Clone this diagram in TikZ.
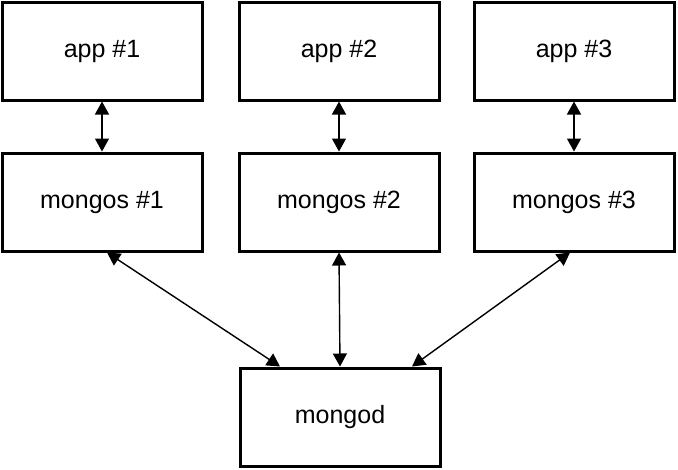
\documentclass[tikz,border=0pt]{standalone}
\usepackage{fontspec}
\setmainfont{Liberation Sans}
\usetikzlibrary{arrows.meta}

\begin{document}
\begin{tikzpicture}[x=1pt,y=-1pt,
    box/.style={draw,line width=3pt,minimum width=200pt,minimum height=98pt,
      inner sep=0pt,font=\fontsize{25}{29}\selectfont},
    link/.style={line width=1.4pt,{Triangle[width=14pt,length=13pt]}-{Triangle[width=14pt,length=13pt]}}]

  \useasboundingbox (0,0) rectangle (678,469);

  % ====================================================
  % ROW 1: APPLICATIONS
  % ====================================================
  \node[box] (app1) at (102,51) {app \#1};
  \node[box] (app2) at (339,51) {app \#2};
  \node[box] (app3) at (574,51) {app \#3};

  % ====================================================
  % ROW 2: ROUTERS
  % ====================================================
  \node[box] (mongos1) at (102,202) {mongos \#1};
  \node[box] (mongos2) at (339,202) {mongos \#2};
  \node[box] (mongos3) at (574,202) {mongos \#3};

  % ====================================================
  % ROW 3: DATABASE
  % ====================================================
  \node[box] (mongod) at (340,417) {mongod};

  % app <-> mongos
  \draw[link] (app1.south) -- (mongos1.north);
  \draw[link] (app2.south) -- (mongos2.north);
  \draw[link] (app3.south) -- (mongos3.north);

  % mongos <-> mongod
  \draw[link] ([xshift=5pt]mongos1.south) -- ([xshift=-60pt]mongod.north);
  \draw[link] (mongos2.south) -- (mongod.north);
  \draw[link] ([xshift=-4pt]mongos3.south) -- ([xshift=72pt]mongod.north);
\end{tikzpicture}
\end{document}
